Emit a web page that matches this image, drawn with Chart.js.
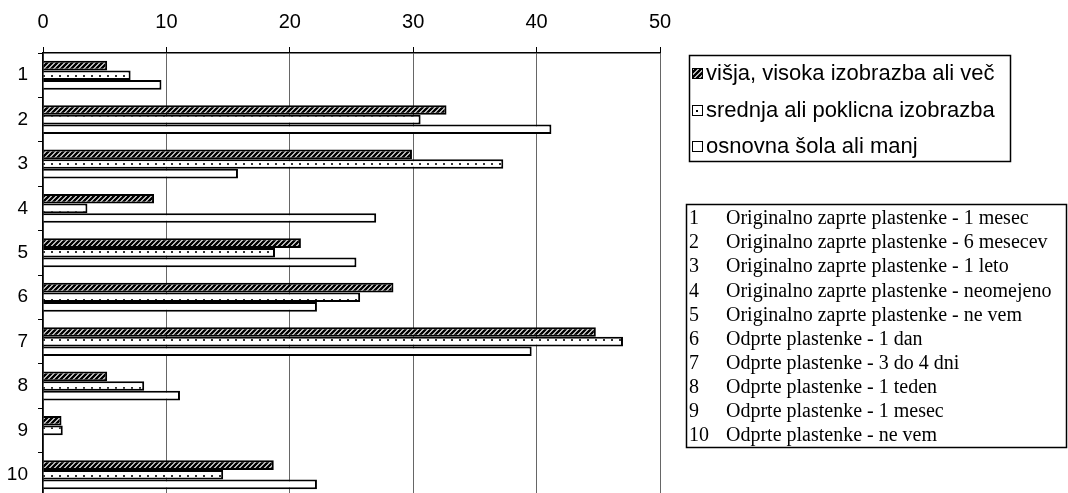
<!DOCTYPE html>
<html>
<head>
<meta charset="utf-8">
<script src="https://cdn.jsdelivr.net/npm/chart.js@4/dist/chart.umd.min.js"></script>
<style>
  html, body { margin: 0; padding: 0; background: #fff; overflow: hidden; width: 1068px; height: 493px; }
  #wrap { position: absolute; left: 0; top: 0; width: 1068px; height: 500px; }
</style>
</head>
<body>
<div id="wrap"><canvas id="c" width="1068" height="500"></canvas></div>
<script>
// Answer categories (numbered) and their descriptions
const categories = ['1', '2', '3', '4', '5', '6', '7', '8', '9', '10'];
const categoryNotes = [
  'Originalno zaprte plastenke - 1 mesec',
  'Originalno zaprte plastenke - 6 mesecev',
  'Originalno zaprte plastenke - 1 leto',
  'Originalno zaprte plastenke - neomejeno',
  'Originalno zaprte plastenke - ne vem',
  'Odprte plastenke - 1 dan',
  'Odprte plastenke - 3 do 4 dni',
  'Odprte plastenke - 1 teden',
  'Odprte plastenke - 1 mesec',
  'Odprte plastenke - ne vem'
];

// Series names (education level)
const seriesNames = [
  'višja, visoka izobrazba ali več',
  'srednja ali poklicna izobrazba',
  'osnovna šola ali manj'
];

// Shares in percent per category
const visjaValues   = [5.2, 32.7, 29.9, 9.0, 20.9, 28.4, 44.8, 5.2, 1.5, 18.7];
const srednjaValues = [7.1, 30.6, 37.3, 3.6, 18.8, 25.7, 47.0, 8.2, 1.6, 14.6];
const osnovnaValues = [9.6, 41.2, 15.8, 27.0, 25.4, 22.2, 39.6, 11.1, 0, 22.2];

// Value axis tick labels
const xTickValues = [0, 10, 20, 30, 40, 50];

// Fill patterns
function hatchPattern() {
  const s = 5;
  const c = document.createElement('canvas');
  c.width = s; c.height = s;
  const g = c.getContext('2d');
  g.fillStyle = '#fff';
  g.fillRect(0, 0, s, s);
  g.strokeStyle = '#000';
  g.lineWidth = 2.5;
  g.beginPath();
  g.moveTo(-1, 1); g.lineTo(1, -1);
  g.moveTo(0, s); g.lineTo(s, 0);
  g.moveTo(s - 1, s + 1); g.lineTo(s + 1, s - 1);
  g.stroke();
  return g.createPattern(c, 'repeat');
}
function dotPattern() {
  const w = 8, h = 8;
  const c = document.createElement('canvas');
  c.width = w; c.height = h;
  const g = c.getContext('2d');
  g.fillStyle = '#fff';
  g.fillRect(0, 0, w, h);
  g.fillStyle = '#333';
  g.fillRect(3, 3, 2, 2);
  return g.createPattern(c, 'repeat');
}

const hatch = hatchPattern();
const dots = dotPattern();

// Legend box and description box drawn at the right of the plot
const sidePanels = {
  id: 'sidePanels',
  afterDraw(chart) {
    const ctx = chart.ctx;
    ctx.save();

    // series legend
    ctx.strokeStyle = '#000';
    ctx.lineWidth = 1.5;
    ctx.strokeRect(689.5, 55.5, 321, 106);
    ctx.font = '22px "Liberation Sans", Arial, sans-serif';
    ctx.textBaseline = 'middle';
    ctx.textAlign = 'left';
    chart.data.datasets.forEach((ds, i) => {
      const y = Math.round(73 + i * 36.5);
      ctx.fillStyle = '#fff';
      ctx.fillRect(692, y - 4, 10, 10);
      if (i === 0) {
        ctx.fillStyle = hatch;
        ctx.fillRect(692, y - 4, 10, 10);
      } else if (i === 1) {
        ctx.fillStyle = '#000';
        ctx.fillRect(696, y, 2, 2);
      }
      ctx.lineWidth = 1;
      ctx.strokeStyle = '#000';
      ctx.strokeRect(692.5, y - 4.5, 10, 10);
      ctx.fillStyle = '#000';
      ctx.fillText(ds.label, 706, y + 1);
    });

    // category description box
    const bx = 686, by = 204, bw = 380, bh = 243;
    ctx.save();
    ctx.beginPath();
    ctx.rect(bx, by, bw, bh);
    ctx.clip();
    ctx.font = '20px "Liberation Serif", "Times New Roman", serif';
    ctx.fillStyle = '#000';
    ctx.textBaseline = 'middle';
    categories.forEach((c, i) => {
      const y = 219 + i * 24.1;
      ctx.fillText(c, 689, y);
      ctx.fillText(categoryNotes[i], 726, y);
    });
    ctx.restore();
    ctx.lineWidth = 1.5;
    ctx.strokeStyle = '#000';
    ctx.strokeRect(bx + 0.5, by + 0.5, bw, bh);

    ctx.restore();
  }
};

new Chart(document.getElementById('c'), {
  type: 'bar',
  data: {
    labels: categories,
    datasets: [
      { label: seriesNames[0], data: visjaValues, backgroundColor: hatch },
      { label: seriesNames[1], data: srednjaValues, backgroundColor: dots },
      { label: seriesNames[2], data: osnovnaValues, backgroundColor: '#fff' }
    ]
  },
  options: {
    indexAxis: 'y',
    responsive: false,
    maintainAspectRatio: false,
    animation: false,
    devicePixelRatio: 1,
    layout: { padding: { left: 0, top: 0, right: 408, bottom: 3 } },
    datasets: {
      bar: {
        borderColor: '#000',
        borderWidth: 2,
        categoryPercentage: 0.65,
        barPercentage: 1.0
      }
    },
    plugins: {
      legend: { display: false },
      tooltip: { enabled: false }
    },
    scales: {
      x: {
        position: 'top',
        min: 0,
        max: 50,
        afterBuildTicks(scale) {
          scale.ticks = xTickValues.map(v => ({ value: v }));
        },
        afterFit(scale) {
          scale.height = 53;
          scale.paddingLeft = 0;
          scale.paddingRight = 0;
        },
        ticks: {
          color: '#000',
          padding: 13,
          font: { family: '"Liberation Sans", Arial, sans-serif', size: 20 }
        },
        grid: {
          color: '#666',
          lineWidth: 1,
          tickColor: '#000',
          tickLength: 6
        },
        border: { color: '#000', width: 1.5 }
      },
      y: {
        afterFit(scale) {
          scale.width = 43;
          scale.paddingTop = 0;
          scale.paddingBottom = 0;
        },
        ticks: {
          color: '#000',
          padding: 10,
          font: { family: '"Liberation Sans", Arial, sans-serif', size: 19 }
        },
        grid: {
          drawOnChartArea: false,
          tickColor: '#000',
          tickLength: 5,
          offset: true
        },
        border: { color: '#000', width: 1.5 }
      }
    }
  },
  plugins: [sidePanels]
});
</script>
</body>
</html>
